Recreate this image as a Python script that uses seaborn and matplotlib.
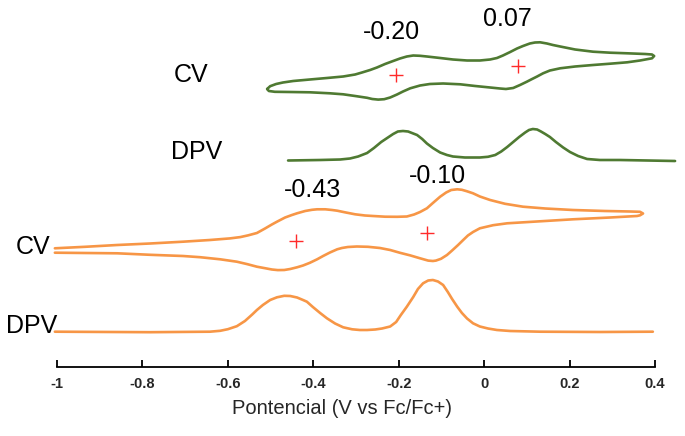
import pandas as pd
import matplotlib
matplotlib.use("Agg")
import matplotlib.pyplot as plt
import seaborn as sns

# Potencial en V vs Fc/Fc+, señal en unidades arbitrarias (curvas desplazadas)
# CV verde: ida (rama superior) y vuelta (rama inferior)
cv_verde_x = [-0.508, -0.501, -0.487, -0.471, -0.447, -0.408, -0.368, -0.330, -0.302, -0.286,
              -0.267, -0.251, -0.232, -0.213, -0.197, -0.181, -0.166, -0.150, -0.134, -0.103,
              -0.073, -0.040, -0.010, 0.014, 0.030, 0.044, 0.061, 0.077, 0.091, 0.107,
              0.119, 0.131, 0.147, 0.161, 0.178, 0.213, 0.255, 0.295, 0.335, 0.377,
              0.393, 0.398, 0.393,
              0.365, 0.335, 0.295, 0.255, 0.213, 0.178, 0.154, 0.138, 0.124, 0.110,
              0.100, 0.084, 0.068, 0.051, 0.037, 0.014, -0.021, -0.056, -0.096, -0.127,
              -0.150, -0.173, -0.190, -0.204, -0.220, -0.234, -0.248, -0.262, -0.274, -0.302,
              -0.330, -0.361, -0.408, -0.454, -0.490, -0.504, -0.508]
cv_verde_y = [284, 286.8, 289, 290.5, 292, 293.5, 295, 296.5, 298.5, 300.5,
              303, 305.5, 309, 312, 314.5, 316.5, 317.5, 317.2, 316.5, 315,
              313.5, 312.5, 312.5, 313.5, 315, 317.5, 321, 324.5, 327, 329.5,
              330.5, 330.7, 329.5, 328, 326.5, 323.5, 321.3, 320.3, 319.7, 319,
              318.5, 317, 314.7,
              312.5, 310.7, 309.3, 308, 306.5, 304.7, 302.5, 299.7, 296.5, 293.5,
              291.3, 288, 285, 284, 284.5, 285.5, 287, 288.7, 289.5, 289,
              287.5, 284.7, 281.5, 278.5, 275.5, 273.8, 273.4, 274, 275.2, 277,
              278.7, 279.7, 280.7, 281, 281.2, 282, 284]

# DPV verde
dpv_verde_x = [-0.459, -0.384, -0.337, -0.314, -0.295, -0.274, -0.258, -0.241, -0.227, -0.213,
               -0.202, -0.190, -0.178, -0.166, -0.157, -0.145, -0.134, -0.120, -0.103, -0.087,
               -0.073, -0.045, -0.010, 0.009, 0.026, 0.040, 0.054, 0.068, 0.082, 0.096,
               0.105, 0.114, 0.124, 0.133, 0.143, 0.154, 0.168, 0.185, 0.201, 0.220,
               0.241, 0.271, 0.318, 0.447]
dpv_verde_y = [212.5, 213, 213.5, 214.5, 216.5, 220, 225, 231, 235, 239,
               241.5, 242, 241.5, 239.5, 238, 234, 229.5, 225, 220.5, 218,
               216.5, 215.5, 215.5, 216.2, 218, 221.5, 226, 231, 236, 240.5,
               243, 244, 243.5, 241.5, 239, 236, 231, 225.5, 221, 217,
               214, 213, 213, 212]

# CV naranja
cv_naranja_x = [-1.005, -0.934, -0.859, -0.782, -0.705, -0.642, -0.595, -0.571, -0.553, -0.532,
                -0.513, -0.497, -0.485, -0.466, -0.450, -0.438, -0.419, -0.403, -0.391, -0.372,
                -0.356, -0.344, -0.326, -0.302, -0.279, -0.260, -0.232, -0.204, -0.181, -0.164,
                -0.150, -0.134, -0.120, -0.103, -0.089, -0.077, -0.063, -0.052, -0.040, -0.026,
                -0.010, 0.014, 0.049, 0.091, 0.143, 0.208, 0.283, 0.342, 0.365, 0.372,
                0.365, 0.358, 0.295, 0.208, 0.131, 0.054, 0.021, -0.010, -0.026, -0.038,
                -0.049, -0.061, -0.075, -0.087, -0.101, -0.113, -0.120, -0.131, -0.150, -0.173,
                -0.197, -0.220, -0.244, -0.272, -0.298, -0.319, -0.333, -0.344, -0.361, -0.377,
                -0.391, -0.408, -0.424, -0.438, -0.454, -0.468, -0.483, -0.497, -0.513, -0.532,
                -0.555, -0.579, -0.618, -0.665, -0.705, -0.782, -0.859, -0.934, -1.005]
cv_naranja_y = [124.7, 126.2, 128, 129.5, 131.3, 133, 134.6, 135.9, 137.6, 140,
                144.5, 148.5, 151.3, 155.5, 158, 159.7, 162, 163.2, 163.7, 163.7,
                163, 162.3, 160.7, 158.7, 157.5, 157, 156.3, 156.2, 156.5, 158.5,
                161, 164.7, 170, 176.3, 180.5, 183, 183.7, 183.2, 181.7, 179.7,
                176.5, 173, 169.2, 166.3, 164.5, 163, 162, 161.5, 161.2, 159.5,
                157.7, 157, 155.5, 153.7, 151.7, 149.7, 147.8, 144.7, 141, 137.5,
                133, 128, 122.5, 118, 114.2, 112.4, 112, 112.4, 114.7, 117.6,
                120.2, 123, 125, 126.2, 126.5, 126, 125, 123.7, 120.5, 117,
                113.7, 110.2, 107.5, 105.7, 104, 103, 102.9, 103.5, 104.8, 106.3,
                108.9, 111.3, 113.7, 115.8, 117, 118.2, 119.7, 120, 120.3]

# DPV naranja
dpv_naranja_x = [-1.005, -0.782, -0.642, -0.618, -0.600, -0.579, -0.560, -0.543, -0.532, -0.518,
                 -0.501, -0.485, -0.468, -0.454, -0.438, -0.424, -0.415, -0.401, -0.384, -0.368,
                 -0.349, -0.330, -0.309, -0.291, -0.274, -0.255, -0.239, -0.220, -0.206, -0.195,
                 -0.181, -0.166, -0.155, -0.143, -0.131, -0.120, -0.108, -0.096, -0.085, -0.075,
                 -0.063, -0.052, -0.040, -0.026, -0.010, 0.009, 0.030, 0.061, 0.131, 0.271, 0.395]
dpv_naranja_y = [41.3, 40.8, 41.3, 42.2, 43.8, 46.8, 52, 58.5, 63, 68,
                 73, 75.7, 77.2, 77, 75.5, 73, 71.3, 66, 60, 54.7,
                 49.5, 45.7, 43.7, 43, 43, 43.5, 44.5, 46.5, 51, 58,
                 66.3, 76, 84, 89.7, 92.5, 93, 91.5, 88, 81, 74,
                 66.3, 60, 54.5, 49.7, 46.5, 44.5, 43, 42, 41.3, 41, 41.3]

# E1/2 marcados con cruces
cruz_x = [-0.206, 0.079, -0.440, -0.134]
cruz_y = [298, 307, 132, 140]

etiquetas_e = ["-0.20", "0.07", "-0.43", "-0.10"]
etiquetas_e_x = [-0.218, 0.054, -0.401, -0.110]
etiquetas_e_y = [341, 354, 183, 197]

etiquetas_curva = ["CV", "DPV", "CV", "DPV"]
etiquetas_curva_x = [-0.686, -0.672, -1.056, -1.059]
etiquetas_curva_y = [298, 221, 126, 47]

ticks = [-1, -0.8, -0.6, -0.4, -0.2, 0, 0.2, 0.4]
tick_labels = ["-1", "-0.8", "-0.6", "-0.4", "-0.2", "0", "0.2", "0.4"]

verde = "#4F7A32"
naranja = "#F79646"

sns.set_theme(style="white")
plt.rcParams['font.family'] = ['Liberation Sans', 'DejaVu Sans']

fig = plt.figure(figsize=(6.85, 4.36), dpi=100)
ax = fig.add_axes([0, 63 / 436, 1, 373 / 436])

curvas = [
    (cv_verde_x, cv_verde_y, verde),
    (dpv_verde_x, dpv_verde_y, verde),
    (cv_naranja_x, cv_naranja_y, naranja),
    (dpv_naranja_x, dpv_naranja_y, naranja),
]
for xs, ys, col in curvas:
    df = pd.DataFrame({"E": xs, "I": ys})
    sns.lineplot(data=df, x="E", y="I", sort=False, estimator=None,
                 color=col, linewidth=1.9, ax=ax)

sns.scatterplot(x=cruz_x, y=cruz_y, marker="+", s=110, color="#FF2A2A",
                linewidth=1.0, ax=ax, zorder=5)

for t, x, y in zip(etiquetas_e, etiquetas_e_x, etiquetas_e_y):
    ax.text(x, y, t, fontsize=18, ha="center", va="center", color="black")
for t, x, y in zip(etiquetas_curva, etiquetas_curva_x, etiquetas_curva_y):
    ax.text(x, y, t, fontsize=18, ha="center", va="center", color="black")

ax.set_xlim(-1 - 57 / 427.14, -1 + 628 / 427.14)
ax.set_ylim(0, 373)

for s in ["top", "left", "right"]:
    ax.spines[s].set_visible(False)
ax.spines["bottom"].set_bounds(-1, 0.4)
ax.spines["bottom"].set_position(("data", 6))
ax.spines["bottom"].set_color("black")
ax.spines["bottom"].set_linewidth(1.3)

ax.set_xticks(ticks)
ax.set_xticklabels(tick_labels, fontweight="bold", fontsize=10.5)
ax.tick_params(axis="x", direction="in", length=5, width=1.3, color="black", pad=7, bottom=True)
ax.set_yticks([])
ax.set_xlabel("Pontencial (V vs Fc/Fc+)", fontsize=14.5, labelpad=6)
ax.set_ylabel("")

fig.savefig("out.png", dpi=100)
